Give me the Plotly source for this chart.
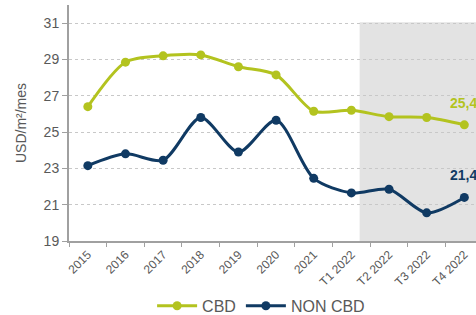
import plotly.graph_objects as go

categories = ["2015", "2016", "2017", "2018", "2019", "2020", "2021",
              "T1 2022", "T2 2022", "T3 2022", "T4 2022"]
cbd = [26.4, 28.85, 29.2, 29.25, 28.6, 28.15, 26.15, 26.2, 25.85, 25.8, 25.4]
non_cbd = [23.15, 23.8, 23.45, 25.8, 23.9, 25.65, 22.45, 21.65, 21.85, 20.55, 21.4]
y_ticks = [19, 21, 23, 25, 27, 29, 31]

GREEN = "#b3c31f"
NAVY = "#103a63"

fig = go.Figure()
fig.add_trace(go.Scatter(x=categories, y=cbd, name="CBD", mode="lines+markers",
                         line=dict(color=GREEN, width=3, shape="spline", smoothing=0.8),
                         marker=dict(size=9, color=GREEN)))
fig.add_trace(go.Scatter(x=categories, y=non_cbd, name="NON CBD", mode="lines+markers",
                         line=dict(color=NAVY, width=3, shape="spline", smoothing=0.8),
                         marker=dict(size=9, color=NAVY)))

fig.add_shape(type="rect", xref="x", yref="y", x0=7.22, x1=11, y0=19, y1=31.05,
              fillcolor="#e3e3e3", line=dict(width=0), layer="below")

fig.add_annotation(x=categories[-1], y=cbd[-1], text="<b>25,4</b>", showarrow=False,
                   yshift=22, xshift=-1, font=dict(color=GREEN, size=14, family="Arial"))
fig.add_annotation(x=categories[-1], y=non_cbd[-1], text="<b>21,4</b>", showarrow=False,
                   yshift=22, xshift=-1, font=dict(color=NAVY, size=14, family="Arial"))

fig.update_layout(
    width=476, height=315,
    margin=dict(l=69, r=0, t=5, b=74, autoexpand=False),
    paper_bgcolor="white", plot_bgcolor="white",
    font=dict(family="Arial", color="#595959"),
    showlegend=True,
    legend=dict(orientation="h", x=0.472, xanchor="center", y=-0.275, yanchor="middle",
                font=dict(size=16, color="#595959"), itemwidth=40,
                bgcolor="rgba(0,0,0,0)"),
)
fig.update_xaxes(range=[-0.5, 10.31], tickangle=-45, tickfont=dict(size=12, color="#595959"),
                 showline=True, linecolor="#a0a0a0", linewidth=2, ticks="outside",
                 tickson="boundaries", ticklen=4, tickcolor="#a0a0a0", showgrid=False,
                 automargin=False)
fig.update_yaxes(range=[19, 32], tickvals=y_ticks, tickfont=dict(size=14, color="#595959"),
                 showline=True, linecolor="#a0a0a0", linewidth=2, ticks="outside",
                 ticklen=5, tickcolor="#a0a0a0",
                 showgrid=True, gridcolor="#c8c8c8", griddash="dot", gridwidth=1,
                 title=dict(text="USD/m²/mes", font=dict(size=14, color="#595959"), standoff=14),
                 zeroline=False, automargin=False)

fig.write_html("out.html", post_script="document.body.style.margin='0';",
               config={"displayModeBar": False})
